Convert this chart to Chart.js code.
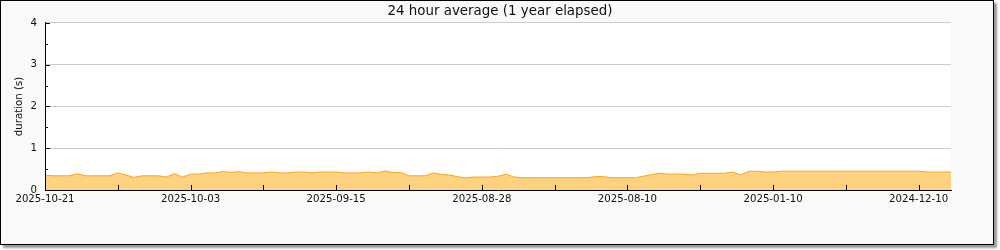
<!DOCTYPE html>
<html>
<head>
<meta charset="utf-8">
<script src="https://cdn.jsdelivr.net/npm/chart.js@4/dist/chart.umd.min.js"></script>
<style>
body{margin:0;background:#fff;}
#frame{position:absolute;left:0;top:0;width:992px;height:243px;border:1px solid #000;background:#f9f9f9;box-shadow:3px 3px 2px #999;}
#wrap{position:absolute;left:0;top:0;width:1000px;height:250px;}
</style>
</head>
<body>
<div id="frame"></div>
<div id="wrap"><canvas id="myChart" width="1000" height="250"></canvas></div>
<script>
// one sample per day, newest first
var durations=[
 0.36,0.34,0.34,0.34,0.39,0.34,0.34,0.34,0.34,0.41,
 0.36,0.30,0.34,0.34,0.34,0.31,0.39,0.31,0.38,0.38,
 0.41,0.41,0.44,0.42,0.44,0.41,0.41,0.41,0.43,0.41,
 0.41,0.43,0.43,0.41,0.43,0.43,0.43,0.41,0.41,0.41,
 0.43,0.41,0.455,0.42,0.42,0.34,0.34,0.34,0.41,0.37,
 0.36,0.32,0.29,0.31,0.31,0.31,0.33,0.38,0.31,0.295,
 0.295,0.295,0.295,0.295,0.295,0.295,0.295,0.295,0.32,0.32,
 0.295,0.295,0.295,0.295,0.33,0.37,0.40,0.38,0.38,0.38,
 0.36,0.40,0.40,0.40,0.40,0.43,0.36,0.45,0.45,0.43,
 0.43,0.45,0.45,0.45,0.45,0.45,0.45,0.45,0.45,0.45,
 0.45,0.45,0.45,0.45,0.45,0.45,0.45,0.45,0.45,0.43,
 0.43,0.43,0.43
]
var tickLabels=['2025-10-21','2025-10-03','2025-09-15','2025-08-28','2025-08-10','2025-01-10','2024-12-10']
var tickEvery=9
var labelEvery=18

var points=[]
for(var i=0;i<durations.length;i++){
    points.push({x:i,y:durations[i]})
}

var plotBg={
    id:'plotBg',
    beforeDraw:function(chart){
        var a=chart.chartArea, c=chart.ctx
        c.save()
        c.fillStyle='#fff'
        c.fillRect(a.left,a.top,a.right-a.left,a.bottom-a.top)
        c.restore()
    }
}

// tick marks point into the plot
var inTicks={
    id:'inTicks',
    afterDraw:function(chart){
        var c=chart.ctx, xs=chart.scales.x, ys=chart.scales.y
        c.save()
        c.strokeStyle='#000'
        c.lineWidth=1
        c.beginPath()
        xs.ticks.forEach(function(t){
            var px=Math.round(xs.getPixelForValue(t.value))+0.5
            c.moveTo(px,ys.bottom)
            c.lineTo(px,ys.bottom-5)
        })
        for(var v=0;v<=4;v+=0.5){
            var py=Math.round(ys.getPixelForValue(v))+0.5
            c.moveTo(xs.left,py)
            c.lineTo(xs.left+(v%1===0?5:3),py)
        }
        c.stroke()
        c.restore()
    }
}

var ctx=document.getElementById('myChart').getContext('2d')
const chart=new Chart(ctx,{
    type:'line',
    data:{
        datasets:[{
            data:points,
            borderColor:'#f7a51d',
            backgroundColor:'rgb(255,210,128)',
            borderWidth:1,
            fill:'origin',
            pointRadius:0,
            tension:0
        }]
    },
    options:{
        responsive:false,
        animation:false,
        layout:{padding:0},
        plugins:{
            legend:{display:false},
            tooltip:{enabled:false},
            title:{
                display:true,
                text:'24 hour average (1 year elapsed)',
                color:'#111',
                font:{family:'DejaVu Sans',size:13.4,weight:'normal'},
                padding:{top:3,bottom:3.9}
            }
        },
        scales:{
            x:{
                type:'linear',
                min:0,
                max:durations.length-1,
                afterBuildTicks:function(scale){
                    scale.ticks=scale.ticks.filter(function(t){return t.value%tickEvery===0})
                },
                afterFit:function(scale){scale.height=60},
                grid:{drawOnChartArea:false,drawTicks:false},
                border:{display:true,color:'#000',width:1,z:1},
                ticks:{
                    stepSize:tickEvery,
                    autoSkip:false,
                    maxRotation:0,
                    padding:3,
                    color:'#111',
                    font:{family:'DejaVu Sans',size:10.2},
                    callback:function(v){
                        return v%labelEvery===0 ? tickLabels[v/labelEvery] : ''
                    }
                }
            },
            y:{
                min:0,
                max:4,
                afterFit:function(scale){scale.width=45},
                grid:{color:'#ccc',drawTicks:false},
                border:{display:true,color:'#000',width:1,z:1},
                ticks:{
                    stepSize:1,
                    padding:8,
                    color:'#111',
                    font:{family:'DejaVu Sans',size:10.2}
                },
                title:{
                    display:true,
                    text:'duration (s)',
                    color:'#111',
                    font:{family:'DejaVu Sans',size:10.2},
                    padding:{top:13,bottom:0}
                }
            },
            // empty strip on the right so the title centres on the whole box
            yRight:{
                position:'right',
                min:0,
                max:4,
                afterFit:function(scale){scale.width=49},
                grid:{display:false,drawTicks:false},
                border:{display:false},
                ticks:{display:false}
            }
        }
    },
    plugins:[plotBg,inTicks]
})
</script>
</body>
</html>
